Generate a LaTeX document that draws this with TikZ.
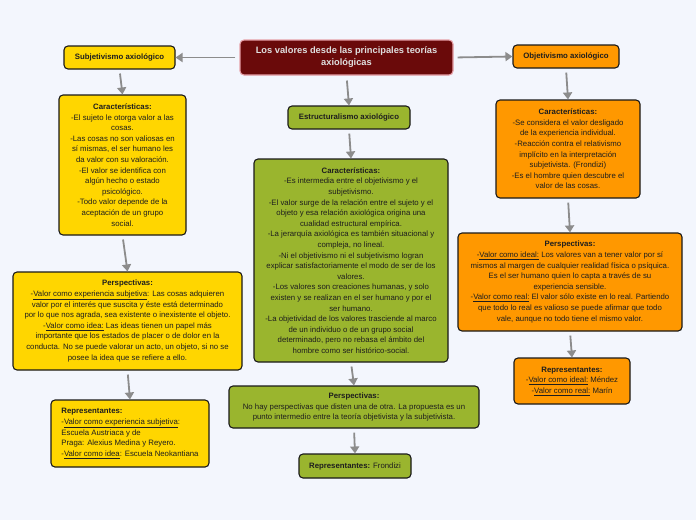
\documentclass[tikz,border=0pt]{standalone}
\usepackage{fontspec}
\setmainfont{Liberation Sans}
\usetikzlibrary{arrows.meta}
\definecolor{bg}{RGB}{243,246,253}
\definecolor{ttl}{RGB}{106,10,10}
\definecolor{ttlb}{RGB}{230,160,168}
\definecolor{yel}{RGB}{255,214,0}
\definecolor{grn}{RGB}{154,181,46}
\definecolor{org}{RGB}{255,152,0}
\definecolor{arrc}{RGB}{140,140,140}
\definecolor{txt}{RGB}{30,30,30}
\begin{document}
\begin{tikzpicture}[x=1pt,y=-1pt,
  box/.style={draw=black!90, line width=1.1pt, rounded corners=4pt, inner sep=0pt,
    align=center, font=\fontsize{7.8}{10.6}\selectfont, text=txt},
  hdr/.style={box, font=\fontsize{7.8}{10.6}\selectfont\bfseries},
  arr/.style={draw=arrc, line width=1.8pt, shorten <=4pt,
    -{Triangle[width=9pt,length=7pt]}}]
\fill[bg] (0,0) rectangle (696,520);
\useasboundingbox (0,0) rectangle (696,520);

\node[box, fill=ttl, draw=ttlb, text=white!88!black, font=\fontsize{9.3}{12}\selectfont\bfseries,
  minimum width=213pt, minimum height=35pt] (title) at (346.5,57.5)
  {Los valores desde las principales teorías\\axiológicas};

% left column
\node[hdr, fill=yel, minimum width=111pt, minimum height=23pt] (subj) at (119.5,57.5) {Subjetivismo axiológico};
\node[box, fill=yel, minimum width=127pt, minimum height=140pt] (carL) at (122.5,165)
  {\textbf{Características:}\\-El sujeto le otorga valor a las\\cosas.\\-Las cosas no son valiosas en\\sí mismas, el ser humano les\\da valor con su valoración.\\-El valor se identifica con\\algún hecho o estado\\psicológico.\\-Todo valor depende de la\\aceptación de un grupo\\social.};
\node[box, fill=yel, minimum width=229pt, minimum height=98pt] (perL) at (127.5,321)
  {\textbf{Perspectivas:}\\-\underline{Valor como experiencia subjetiva}: Las cosas adquieren\\valor por el interés que suscita y éste está determinado\\por lo que nos agrada, sea existente o inexistente el objeto.\\-\underline{Valor como idea:} Las ideas tienen un papel más\\importante que los estados de placer o de dolor en la\\conducta. No se puede valorar un acto, un objeto, si no se\\posee la idea que se refiere a ello.};
\node[box, fill=yel, align=left, minimum width=158pt, minimum height=67pt] (repL) at (130,433.5)
  {\textbf{Representantes:}\\-\underline{Valor como experiencia subjetiva}:\\Escuela Austriaca y de\\Praga: Alexius Medina y Reyero.\\-\underline{Valor como idea}: Escuela Neokantiana};

% middle column
\node[hdr, fill=grn, minimum width=122pt, minimum height=23pt] (estr) at (349,117.5) {Estructuralismo axiológico};
\node[box, fill=grn, minimum width=194pt, minimum height=203pt] (carM) at (351,260.5)
  {\textbf{Características:}\\-Es intermedia entre el objetivismo y el\\subjetivismo.\\-El valor surge de la relación entre el sujeto y el\\objeto y esa relación axiológica origina una\\cualidad estructural empírica.\\-La jerarquía axiológica es también situacional y\\compleja, no lineal.\\-Ni el objetivismo ni el subjetivismo logran\\explicar satisfactoriamente el modo de ser de los\\valores.\\-Los valores son creaciones humanas, y solo\\existen y se realizan en el ser humano y por el\\ser humano.\\-La objetividad de los valores trasciende al marco\\de un individuo o de un grupo social\\determinado, pero no rebasa el ámbito del\\hombre como ser histórico-social.};
\node[box, fill=grn, minimum width=250pt, minimum height=42pt] (perM) at (354,407)
  {\textbf{Perspectivas:}\\No hay perspectivas que disten una de otra. La propuesta es un\\punto intermedio entre la teoría objetivista y la subjetivista.};
\node[box, fill=grn, minimum width=112pt, minimum height=24pt] (repM) at (355,466)
  {\textbf{Representantes:} Frondizi};

% right column
\node[hdr, fill=org, minimum width=106pt, minimum height=23pt] (obj) at (566,56.5) {Objetivismo axiológico};
\node[box, fill=org, minimum width=144pt, minimum height=98pt] (carR) at (568,149)
  {\textbf{Características:}\\-Se considera el valor desligado\\de la experiencia individual.\\-Reacción contra el relativismo\\implícito en la interpretación\\subjetivista. (Frondizi)\\-Es el hombre quien descubre el\\valor de las cosas.};
\node[box, fill=org, minimum width=224pt, minimum height=98pt] (perR) at (570,282)
  {\textbf{Perspectivas:}\\-\underline{Valor como ideal:} Los valores van a tener valor por sí\\mismos al margen de cualquier realidad física o psíquica.\\Es el ser humano quien lo capta a través de su\\experiencia sensible.\\-\underline{Valor como real:} El valor sólo existe en lo real. Partiendo\\que todo lo real es valioso se puede afirmar que todo\\vale, aunque no todo tiene el mismo valor.};
\node[box, fill=org, minimum width=116pt, minimum height=46pt] (repR) at (572,381)
  {\textbf{Representantes:}\\-\underline{Valor como ideal:} Méndez\\-\underline{Valor como real:} Marín};

% connectors
\draw[arr] (title.west) -- (subj.east);
\draw[arr] (title.east) -- (obj.west);
\draw[arr, shorten <=5pt] (title.south) -- (estr.north);
\draw[arr] (subj.south) -- (carL.north);
\draw[arr] (carL.south) -- (perL.north);
\draw[arr] (perL.south) -- (repL.north);
\draw[arr] (estr.south) -- (carM.north);
\draw[arr] (carM.south) -- (perM.north);
\draw[arr] (perM.south) -- (repM.north);
\draw[arr] (obj.south) -- (carR.north);
\draw[arr] (carR.south) -- (perR.north);
\draw[arr] (perR.south) -- (repR.north);
\end{tikzpicture}
\end{document}
